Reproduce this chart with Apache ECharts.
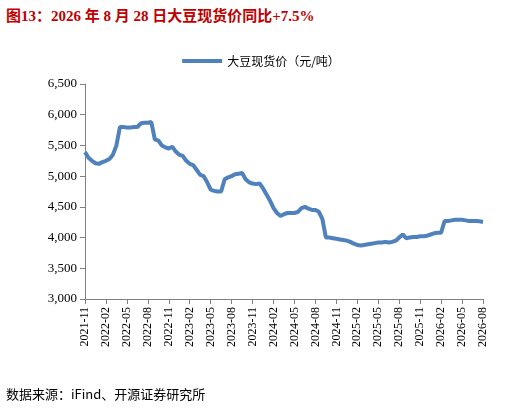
<!DOCTYPE html><html><head><meta charset="utf-8"><script src="https://cdn.jsdelivr.net/npm/echarts@6/dist/echarts.min.js"></script>
<style>body{margin:0;background:#fff}#t{position:absolute;left:6px;top:4px;font:bold 15px 'Liberation Serif','Noto Sans CJK SC';color:#c00000}#s{position:absolute;left:6px;top:384px;font:13px 'Noto Sans CJK SC';color:#000}</style></head><body>
<div id="t">图13：2026 年 8 月 28 日大豆现货价同比+7.5%</div>
<div id="c" style="width:522px;height:408px"></div>
<div id="s">数据来源：iFind、开源证券研究所</div>
<script>
const startYear=2021,startMonth=11,months=57;
const prices=[5390,5300,5250,5210,5200,5230,5250,5280,5350,5500,5800,5800,5790,5790,5800,5800,5860,5870,5870,5880,5600,5580,5500,5470,5450,5480,5400,5350,5330,5250,5200,5180,5100,5020,5000,4900,4780,4760,4750,4750,4950,4980,5000,5030,5040,5050,4950,4900,4880,4870,4880,4800,4700,4600,4480,4400,4350,4380,4400,4400,4400,4420,4480,4500,4470,4450,4450,4420,4300,4000,4000,3990,3980,3970,3960,3950,3930,3900,3880,3870,3880,3890,3900,3910,3920,3920,3930,3920,3930,3950,4000,4050,3990,4000,4010,4010,4020,4020,4030,4050,4070,4080,4080,4270,4270,4280,4290,4290,4290,4280,4270,4270,4270,4265,4255];
const cats=[];for(let i=0;i<=months*2;i++){const m=startMonth-1+Math.floor(i/2);const y=startYear+Math.floor(m/12);const mm=m%12+1;cats.push(y+'-'+String(mm).padStart(2,'0')+(i%2?'-16':'-01'));}
const data=prices.slice(0,cats.length);
const ch=echarts.init(document.getElementById('c'));
ch.setOption({animation:false,
legend:{top:50,left:'center',icon:'rect',itemWidth:40,itemHeight:4,textStyle:{fontFamily:'Noto Sans CJK SC',fontSize:12,color:'#000'},data:['大豆现货价（元/吨）']},
grid:{left:85,right:39,top:84,bottom:109},
xAxis:{type:'category',data:cats,boundaryGap:false,axisLine:{lineStyle:{color:'#808080'}},axisTick:{interval:5,lineStyle:{color:'#808080'}},axisLabel:{interval:5,rotate:90,formatter:v=>v.slice(0,7),fontFamily:'Liberation Serif',fontSize:12,color:'#000'}},
yAxis:{type:'value',min:3000,max:6500,interval:500,splitLine:{show:false},axisLine:{show:true,lineStyle:{color:'#808080'}},axisTick:{show:true,lineStyle:{color:'#808080'}},axisLabel:{formatter:v=>v.toLocaleString('en-US'),fontFamily:'Liberation Serif',fontSize:13,color:'#000'}},
series:[{name:'大豆现货价（元/吨）',type:'line',data,showSymbol:false,lineStyle:{color:'#4f81bd',width:4},itemStyle:{color:'#4f81bd'}}]});
</script></body></html>
